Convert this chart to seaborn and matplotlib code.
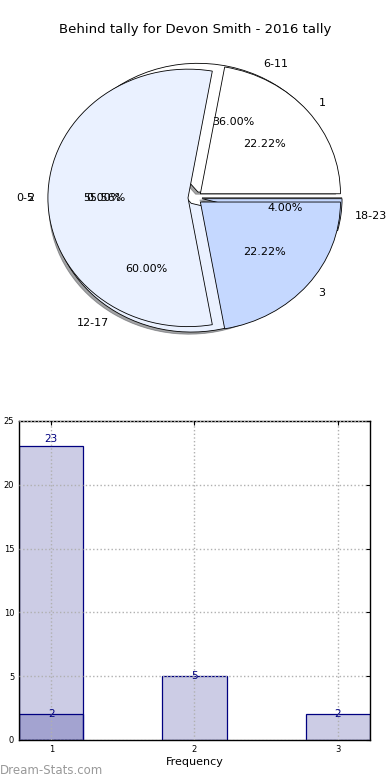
import matplotlib
matplotlib.use("Agg")
import matplotlib.pyplot as plt
import pandas as pd
import seaborn as sns

# Pie data
hour_labels = ["0-5", "6-11", "12-17", "18-23"]
hour_values = [0, 9, 15, 1]
freq_labels = ["1", "2", "3"]
freq_values = [2, 5, 2]

# Bar data
bar_x = [1, 2, 3]
bar_counts = [23, 5, 2]
sub_x = [1]
sub_counts = [2]

title = "Behind tally for Devon Smith - 2016 tally"

sns.set_style("white")
plt.rcParams["font.family"] = ["DejaVu Sans"]
plt.rcParams["text.color"] = "black"
plt.rcParams["axes.labelcolor"] = "black"
plt.rcParams["xtick.color"] = "black"
plt.rcParams["ytick.color"] = "black"

fig = plt.figure(figsize=(3.9, 7.8), dpi=100)

# ---- pie ----
ax1 = fig.add_axes([0.051, 0.54, 0.898, 0.4126])
hour_colors = ["#c5d8ff", "white", "#eaf1ff", "#c5d8ff"]
freq_colors = ["white", "#eaf1ff", "#c5d8ff"]
wp = dict(edgecolor="black", linewidth=0.6)

w, t, a = ax1.pie(hour_values, labels=hour_labels, colors=hour_colors,
                  autopct="%.2f%%", explode=[0.05] * 4,
                  shadow={"ox": -0.012, "oy": -0.012, "shade": 0.7},
                  wedgeprops=wp, textprops=dict(fontsize=8))
# empty 0-5 slice ends up on the left side in the original
t[0].set_position((-1.15, 0.0))
t[0].set_ha("right")
a[0].set_position((-0.65, 0.0))

ax1.pie(freq_values, labels=freq_labels, colors=freq_colors,
        autopct="%.2f%%", explode=[0.05] * 3,
        wedgeprops=wp, textprops=dict(fontsize=8))
ax1.set_aspect("auto")
ax1.set_xlim(-1.25, 1.25)
ax1.set_ylim(-1.25, 1.25)

fig.text(0.5, 1 - 30 / 780, title, ha="center", va="center", fontsize=9.5)

# ---- bars ----
ax2 = fig.add_axes([0.0487, 0.0513, 0.9, 0.409])
df = pd.DataFrame({
    "x": bar_x + sub_x,
    "count": bar_counts + sub_counts,
    "group": ["all"] * len(bar_x) + ["sub"] * len(sub_x),
})
sns.barplot(data=df, x="x", y="count", hue="group", native_scale=True,
            dodge=False, width=0.45, errorbar=None, legend=False,
            palette={"all": "navy", "sub": "navy"}, ax=ax2)
for p in ax2.patches:
    p.set_facecolor((0, 0, 0.5, 0.2))
    p.set_edgecolor("navy")
    p.set_linewidth(0.9)

top = max(bar_counts)
for x, c in zip(df["x"], df["count"]):
    ax2.text(x, c + (0.6 if c == top else 0), str(c), ha="center", va="center",
             color="navy", fontsize=7.5)

ax2.set_xlim(0.775, 3.225)
ax2.set_ylim(0, 25)
ax2.set_xticks([1, 2, 3])
ax2.set_xticklabels(["1", "2", "3"])
ax2.set_yticks([0, 5, 10, 15, 20, 25])
ax2.grid(True, linestyle=":", color="#b0b0b0", linewidth=1)
ax2.set_axisbelow(False)
ax2.tick_params(direction="in", length=3, labelsize=6, top=True, right=True)
for s in ax2.spines.values():
    s.set_color("black")
    s.set_linewidth(1)
ax2.set_xlabel("Frequency", fontsize=8, labelpad=2)
ax2.set_ylabel("Number of Times", fontsize=7)
ax2.yaxis.set_label_coords(-0.046, 0.5)

fig.text(0.0, 1 - 770 / 780, "Dream-Stats.com", color="#999999",
         fontsize=8.5, va="center")

fig.savefig("out.png", dpi=100)
